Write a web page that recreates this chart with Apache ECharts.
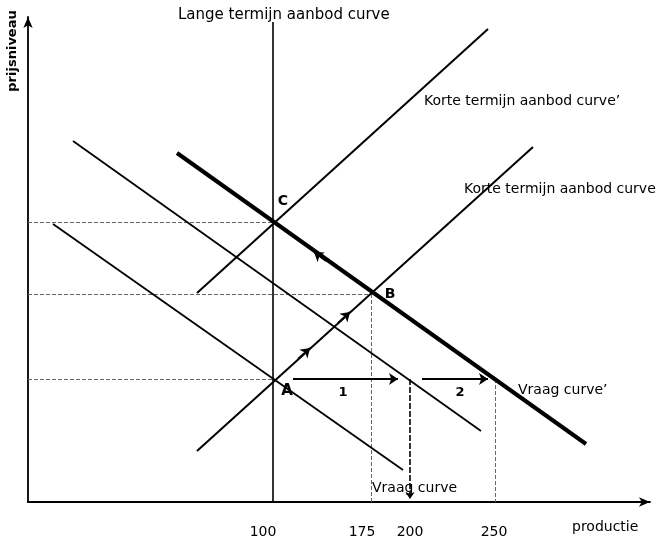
<!DOCTYPE html>
<html>
<head>
<meta charset="utf-8">
<script src="https://cdn.jsdelivr.net/npm/echarts@6/dist/echarts.min.js"></script>
<style>html,body{margin:0;background:#fff}#main{width:668px;height:539px}</style>
</head>
<body>
<div id="main"></div>
<script>
// tekening-eenheden: x = productie-as (0..622), y = prijsniveau-as (0..485)
var tickPos = [235, 334, 382, 466];
var tickLabels = ['100', '175', '200', '250'];

var lras = [[245, 0], [245, 480]];
var srasA = [[169, 51], [505, 355]];       // Korte termijn aanbod curve
var srasC = [[169, 209], [460, 473]];      // Korte termijn aanbod curve'
var vraag = [[25, 278], [375, 32]];        // Vraag curve
var vraagMid = [[45, 361], [453, 71]];
var vraagNieuw = [[149, 349], [558, 58]];  // Vraag curve'

// hulplijnen (gestreept)
var hulpH = [[[0, 280], [245, 280]], [[0, 208], [343, 208]], [[0, 123], [245, 123]]];
var hulpV = [[[343, 208], [343, 0]], [[467, 123], [467, 0]]];
var pijlen = [
  [[265, 123], [370, 123]],
  [[394, 123], [460, 123]],
  [[270, 143], [282, 154]],
  [[310, 179], [322, 190]],
  [[298, 241], [286, 250]]
];
var pijlOmlaag = [[382, 123], [382, 3]];

var chart = echarts.init(document.getElementById('main'));

function curve(data, width) {
  return {
    type: 'line',
    data: data,
    symbol: 'none',
    silent: true,
    lineStyle: { color: '#000', width: width }
  };
}

function toCoords(list) {
  return list.map(function (c) { return { coords: c }; });
}

var font = '"DejaVu Sans", sans-serif';
function txt(text, x, y, size, weight, align) {
  return {
    type: 'text',
    x: x, y: y,
    style: {
      text: text,
      fontFamily: font,
      fontSize: size,
      fontWeight: weight || 'normal',
      fill: '#000',
      align: align || 'left',
      verticalAlign: 'middle'
    }
  };
}

var option = {
  animation: false,
  grid: { left: 28, right: 18, top: 17, bottom: 37, outerBoundsMode: 'none' },
  xAxis: {
    type: 'value',
    min: 0,
    max: 622,
    splitLine: { show: false },
    axisTick: { show: false },
    axisLine: {
      lineStyle: { color: '#000', width: 1.8 },
      symbol: ['none', 'arrow'],
      symbolSize: [7, 11]
    },
    axisLabel: {
      customValues: tickPos,
      margin: 23,
      color: '#000',
      fontSize: 14,
      fontFamily: font,
      formatter: function (v) {
        var i = tickPos.indexOf(v);
        return i >= 0 ? tickLabels[i] : '';
      }
    }
  },
  yAxis: {
    type: 'value',
    min: 0,
    max: 485,
    splitLine: { show: false },
    axisTick: { show: false },
    axisLabel: { show: false },
    axisLine: {
      lineStyle: { color: '#000', width: 1.8 },
      symbol: ['none', 'arrow'],
      symbolSize: [7, 11]
    }
  },
  series: [
    curve(lras, 1.6),
    curve(srasA, 2),
    curve(srasC, 2),
    curve(vraag, 1.8),
    curve(vraagMid, 1.8),
    curve(vraagNieuw, 4),
    {
      type: 'lines',
      coordinateSystem: 'cartesian2d',
      silent: true,
      data: toCoords(hulpH.concat(hulpV)),
      lineStyle: { color: '#666', width: 1, type: [4, 2], opacity: 1 }
    },
    {
      type: 'lines',
      coordinateSystem: 'cartesian2d',
      silent: true,
      symbol: ['none', 'arrow'],
      symbolSize: 9,
      data: toCoords(pijlen),
      lineStyle: { color: '#000', width: 1.8, opacity: 1 }
    },
    {
      type: 'lines',
      coordinateSystem: 'cartesian2d',
      silent: true,
      symbol: ['none', 'arrow'],
      symbolSize: 7,
      data: toCoords([pijlOmlaag]),
      lineStyle: { color: '#000', width: 1.6, type: [6, 2], opacity: 1 }
    }
  ],
  graphic: [
    txt('prijsniveau', 0, 0, 13, 'bold', 'center'),
    txt('Lange termijn aanbod curve', 178, 15, 15),
    txt('Korte termijn aanbod curve\u2019', 424, 101, 14),
    txt('Korte termijn aanbod curve', 464, 189, 14),
    txt('Vraag curve\u2019', 518, 390, 14),
    txt('Vraag curve', 372, 488, 14),
    txt('productie', 572, 527, 14),
    txt('C', 283, 201, 14, 'bold', 'center'),
    txt('B', 390, 294, 14, 'bold', 'center'),
    txt('A', 287, 391, 15, 'bold', 'center'),
    txt('1', 343, 393, 13, 'bold', 'center'),
    txt('2', 460, 393, 13, 'bold', 'center')
  ]
};
option.graphic[0].x = 13;
option.graphic[0].y = 51;
option.graphic[0].rotation = Math.PI / 2;

chart.setOption(option);
</script>
</body>
</html>
